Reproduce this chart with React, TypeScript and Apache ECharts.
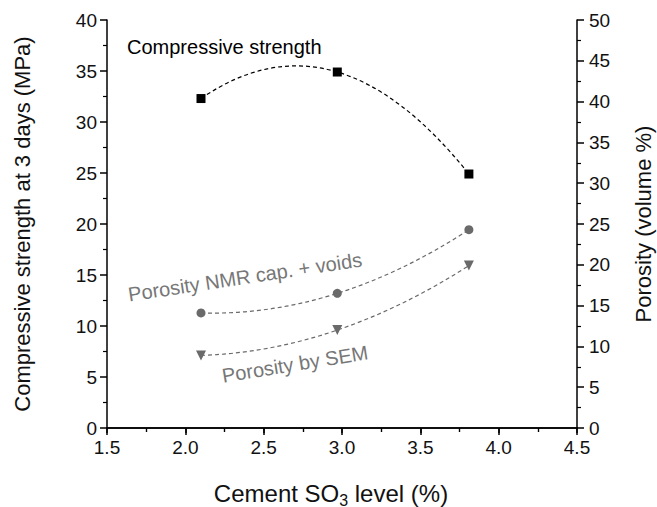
import React, { useEffect, useRef } from "react";
import * as echarts from "echarts";

const so3Levels = [2.1, 2.97, 3.81];
const compressiveStrength = [32.3, 34.9, 24.9];
const porosityNMR = [14.1, 16.5, 24.3];
const porositySEM = [8.9, 12.0, 19.9];

const FONT = "'Liberation Sans', Arial, sans-serif";
const GRAY = "#6a6a6a";
const TEXT = "#111";

// Quadratic fit curve through the three points, drawn in pixel space via the axes.
function fitCurve(color: string) {
  return (params: any, api: any) => {
    if (params.dataIndexInside !== 0) return null;
    const pts = [0, 1, 2].map((i) => api.coord([api.value(0, i), api.value(1, i)]));
    const [p0, p1, p2] = pts;
    const d01 = (p1[1] - p0[1]) / (p1[0] - p0[0]);
    const d12 = (p2[1] - p1[1]) / (p2[0] - p1[0]);
    const a = (d12 - d01) / (p2[0] - p0[0]);
    const slope0 = d01 + a * (p0[0] - p1[0]);
    const cx = (p0[0] + p2[0]) / 2;
    const cy = p0[1] + slope0 * (cx - p0[0]);
    return {
      type: "bezierCurve",
      shape: { x1: p0[0], y1: p0[1], x2: p2[0], y2: p2[1], cpx1: cx, cpy1: cy },
      style: { stroke: color, lineWidth: 1.2, lineDash: [4, 3], fill: null },
      z2: 0,
    };
  };
}

export default function App() {
  const ref = useRef<HTMLDivElement>(null);
  useEffect(() => {
    if (!ref.current) return;
    const chart = echarts.init(ref.current, null, { renderer: "svg" });
    const axisLine = { show: true, lineStyle: { color: "#000", width: 1.5 } };
    const pair = (ys: number[]) => so3Levels.map((x, i) => [x, ys[i]]);
    chart.setOption({
      animation: false,
      backgroundColor: "#fff",
      textStyle: { fontFamily: FONT },
      grid: { left: 107, right: 80, top: 20, bottom: 79, containLabel: false, outerBoundsMode: "none" },
      xAxis: [
        {
          type: "value",
          position: "bottom",
          min: 1.5,
          max: 4.5,
          interval: 0.5,
          axisLine,
          splitLine: { show: false },
          axisTick: { show: true, inside: false, length: 7, lineStyle: { color: "#000", width: 1.5 } },
          minorTick: { show: true, splitNumber: 2, length: 4, lineStyle: { color: "#000", width: 1.2 } },
          axisLabel: {
            fontSize: 19,
            color: TEXT,
            fontFamily: FONT,
            margin: 10,
            formatter: (v: number) => v.toFixed(1),
          },
          name: "Cement SO{sub|3} level (%)",
          nameLocation: "middle",
          nameGap: 50,
          nameTextStyle: {
            fontSize: 24,
            color: TEXT,
            fontFamily: FONT,
            padding: [0, 22, 0, 0],
            rich: {
              sub: { fontSize: 16, color: TEXT, fontFamily: FONT, padding: [14, 0, 0, 0] },
            },
          },
        },
        {
          type: "value",
          position: "top",
          min: 1.5,
          max: 4.5,
          interval: 0.5,
          axisLine,
          splitLine: { show: false },
          axisTick: { show: true, inside: true, length: 5, lineStyle: { color: "#000", width: 1.5 } },
          minorTick: { show: true, splitNumber: 2, length: 4, lineStyle: { color: "#000", width: 1.2 } },
          axisLabel: { show: false },
        },
      ],
      yAxis: [
        {
          type: "value",
          position: "left",
          min: 0,
          max: 40,
          interval: 5,
          axisLine,
          splitLine: { show: false },
          axisTick: { show: true, inside: false, length: 7, lineStyle: { color: "#000", width: 1.5 } },
          minorTick: { show: true, splitNumber: 2, length: 4, lineStyle: { color: "#000", width: 1.2 } },
          axisLabel: { fontSize: 19, color: TEXT, fontFamily: FONT, margin: 10 },
          name: "Compressive strength at 3 days (MPa)",
          nameLocation: "middle",
          nameGap: 74,
          nameTextStyle: { fontSize: 22, color: TEXT, fontFamily: FONT },
        },
        {
          type: "value",
          position: "right",
          min: 0,
          max: 50,
          interval: 5,
          axisLine,
          splitLine: { show: false },
          axisTick: { show: true, inside: false, length: 7, lineStyle: { color: "#000", width: 1.5 } },
          minorTick: { show: true, splitNumber: 2, length: 4, lineStyle: { color: "#000", width: 1.2 } },
          axisLabel: { fontSize: 19, color: TEXT, fontFamily: FONT, margin: 12 },
          name: "Porosity (volume %)",
          nameLocation: "middle",
          nameGap: 55,
          nameRotate: 90,
          nameTextStyle: { fontSize: 22, color: TEXT, fontFamily: FONT },
        },
      ],
      series: [
        {
          name: "Compressive strength fit",
          type: "custom",
          xAxisIndex: 0,
          yAxisIndex: 0,
          data: pair(compressiveStrength),
          renderItem: fitCurve("#000"),
          z: 1,
        },
        {
          name: "Porosity NMR fit",
          type: "custom",
          xAxisIndex: 0,
          yAxisIndex: 1,
          data: pair(porosityNMR),
          renderItem: fitCurve(GRAY),
          z: 1,
        },
        {
          name: "Porosity SEM fit",
          type: "custom",
          xAxisIndex: 0,
          yAxisIndex: 1,
          data: pair(porositySEM),
          renderItem: fitCurve(GRAY),
          z: 1,
        },
        {
          name: "Compressive strength",
          type: "scatter",
          xAxisIndex: 0,
          yAxisIndex: 0,
          data: pair(compressiveStrength),
          symbol: "rect",
          symbolSize: 9,
          itemStyle: { color: "#000", opacity: 1 },
          z: 3,
        },
        {
          name: "Porosity NMR cap. + voids",
          type: "scatter",
          xAxisIndex: 0,
          yAxisIndex: 1,
          data: pair(porosityNMR),
          symbol: "circle",
          symbolSize: 9,
          itemStyle: { color: GRAY, opacity: 1 },
          z: 3,
        },
        {
          name: "Porosity by SEM",
          type: "scatter",
          xAxisIndex: 0,
          yAxisIndex: 1,
          data: pair(porositySEM),
          symbol: "triangle",
          symbolRotate: 180,
          symbolSize: 10,
          itemStyle: { color: GRAY, opacity: 1 },
          z: 3,
        },
      ],
      graphic: [
        {
          type: "text",
          left: 127,
          top: 37,
          style: { text: "Compressive strength", fontSize: 20, fontFamily: FONT, fill: "#000" },
        },
        {
          type: "text",
          x: 245,
          y: 277,
          rotation: 0.15,
          style: {
            text: "Porosity NMR cap. + voids",
            fontSize: 20,
            fontFamily: FONT,
            fill: "#777",
            align: "center",
            verticalAlign: "middle",
          },
        },
        {
          type: "text",
          x: 295,
          y: 364,
          rotation: 0.16,
          style: {
            text: "Porosity by SEM",
            fontSize: 20,
            fontFamily: FONT,
            fill: "#777",
            align: "center",
            verticalAlign: "middle",
          },
        },
      ],
    });
    return () => chart.dispose();
  }, []);
  return <div ref={ref} style={{ width: 657, height: 507, position: "absolute", left: 0, top: 0 }} />;
}
